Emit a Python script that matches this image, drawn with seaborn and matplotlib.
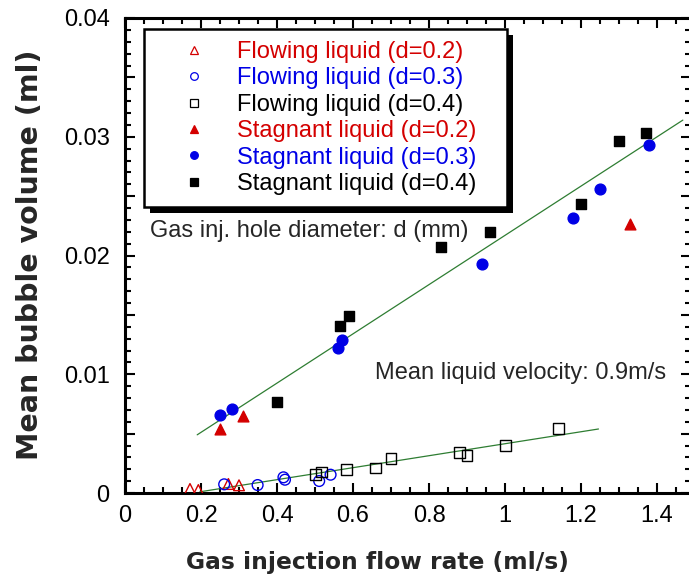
import numpy as np
import pandas as pd
import matplotlib
matplotlib.use("Agg")
import matplotlib.pyplot as plt
import seaborn as sns
from matplotlib.ticker import MultipleLocator, FuncFormatter
from matplotlib.patches import Rectangle

# ---------------- data ----------------
flow02_x = [0.171, 0.193, 0.272, 0.300]
flow02_y = [0.00034, 0.00025, 0.00076, 0.00065]

flow03_x = [0.261, 0.349, 0.417, 0.421, 0.511, 0.541]
flow03_y = [0.00073, 0.00067, 0.00132, 0.00112, 0.00101, 0.00154]

flow04_x = [0.502, 0.517, 0.582, 0.660, 0.700, 0.880, 0.900, 1.001, 1.140]
flow04_y = [0.00154, 0.00177, 0.00196, 0.00210, 0.00289, 0.00343, 0.00314, 0.00402, 0.00542]

stag02_x = [0.250, 0.311, 1.329]
stag02_y = [0.00536, 0.00651, 0.02265]

stag03_x = [0.250, 0.282, 0.560, 0.571, 0.940, 1.179, 1.250, 1.379]
stag03_y = [0.00657, 0.00705, 0.01221, 0.01288, 0.01926, 0.02316, 0.02560, 0.02930]

stag04_x = [0.401, 0.566, 0.589, 0.831, 0.961, 1.200, 1.300, 1.371]
stag04_y = [0.00769, 0.01406, 0.01490, 0.02072, 0.02195, 0.02436, 0.02962, 0.03032]

fit_stag_x = [0.19, 1.468]
fit_stag_y = [0.0049, 0.0314]
fit_flow_x = [0.197, 1.246]
fit_flow_y = [0.0001, 0.00539]

series_labels = ["Flowing liquid (d=0.2)", "Flowing liquid (d=0.3)", "Flowing liquid (d=0.4)",
                 "Stagnant liquid (d=0.2)", "Stagnant liquid (d=0.3)", "Stagnant liquid (d=0.4)"]

x_label = "Gas injection flow rate (ml/s)"
y_label = "Mean bubble volume (ml)"
note_diam = "Gas inj. hole diameter: d (mm)"
note_vel = "Mean liquid velocity: 0.9m/s"

# ---------------- styling ----------------
sns.set_theme(style="ticks")
plt.rcParams["font.family"] = ["Liberation Sans", "DejaVu Sans"]

RED = "#d40000"
BLUE = "#0000e6"
BLACK = "#000000"
GREEN = "#2e7d32"
FS = 17

W, H = 689, 582
fig = plt.figure(figsize=(W / 100, H / 100), dpi=100)
ax_left, ax_right, ax_top, ax_bot = 125, 691.2, 18, 493
AW, AH = ax_right - ax_left, ax_bot - ax_top
ax = fig.add_axes([ax_left / W, 1 - ax_bot / H, AW / W, AH / H])

def axx(px):
    return (px - ax_left) / AW

def axy(py):
    return (ax_bot - py) / AH

series = [
    (flow02_x, flow02_y, "^", "none", RED),
    (flow03_x, flow03_y, "o", "none", BLUE),
    (flow04_x, flow04_y, "s", "none", BLACK),
    (stag02_x, stag02_y, "^", RED, RED),
    (stag03_x, stag03_y, "o", BLUE, BLUE),
    (stag04_x, stag04_y, "s", BLACK, BLACK),
]
text_colors = [RED, BLUE, BLACK, RED, BLUE, BLACK]

# fit lines
sns.lineplot(x=fit_stag_x, y=fit_stag_y, ax=ax, color=GREEN, lw=0.9, zorder=2)
sns.lineplot(x=fit_flow_x, y=fit_flow_y, ax=ax, color=GREEN, lw=0.9, zorder=2)

handles = []
for (xs, ys, mk, fc, ec), lab in zip(series, series_labels):
    df = pd.DataFrame({"x": xs, "y": ys})
    sns.scatterplot(data=df, x="x", y="y", ax=ax, marker=mk, s=60,
                    facecolor=fc, edgecolor=ec, linewidth=1.0, zorder=3, legend=False)
    handles.append(plt.Line2D([], [], ls="none", marker=mk, markersize=5.5,
                              markerfacecolor=fc, markeredgecolor=ec,
                              markeredgewidth=0.9, label=lab))

ax.set_xlim(0, 1.49)
ax.set_ylim(0, 0.04)

ax.xaxis.set_major_locator(MultipleLocator(0.2))
ax.xaxis.set_minor_locator(MultipleLocator(0.05))
ax.yaxis.set_major_locator(MultipleLocator(0.005))
ax.yaxis.set_minor_locator(MultipleLocator(0.001))
ax.xaxis.set_major_formatter(FuncFormatter(lambda v, p: "0" if abs(v) < 1e-9 else ("%g" % round(v, 2))))
ax.yaxis.set_major_formatter(FuncFormatter(
    lambda v, p: ("0" if abs(v) < 1e-9 else "%.2f" % v) if abs(round(v / 0.01) - v / 0.01) < 1e-6 else ""))

ax.tick_params(which="both", direction="in", top=True, right=True, width=1.5,
               labelsize=FS, colors="black")
ax.tick_params(which="major", length=7.5)
ax.tick_params(which="minor", length=4.5)
ax.tick_params(axis="x", pad=9)
ax.tick_params(axis="y", pad=11)
for sp in ax.spines.values():
    sp.set_linewidth(2.2)
    sp.set_color("black")

ax.set_xlabel(x_label, fontsize=16.8, fontweight="bold", family="DejaVu Sans")
ax.set_ylabel(y_label, fontsize=20.5, fontweight="bold", family="DejaVu Sans")
ax.xaxis.set_label_coords(axx(377), axy(551))
ax.yaxis.set_label_coords(axx(44), axy(255))

# annotations
ax.text(axx(150), axy(231), note_diam, transform=ax.transAxes, fontsize=FS, ha="left", va="center")
ax.text(axx(375), axy(373), note_vel, transform=ax.transAxes, fontsize=FS, ha="left", va="center")

# legend
x0, x1, y0 = axx(144), axx(507), axy(29)
leg = ax.legend(handles=handles, loc="upper left", mode="expand",
                bbox_to_anchor=(x0, y0 - 0.5, x1 - x0, 0.5),
                frameon=True, fancybox=False, fontsize=FS, borderpad=0.5,
                labelspacing=0.19, handlelength=3.2, handletextpad=0.25, borderaxespad=0)
frame = leg.get_frame()
frame.set_edgecolor("black")
frame.set_linewidth(1.8)
frame.set_facecolor("white")
frame.set_alpha(1)
for t, c in zip(leg.get_texts(), text_colors):
    t.set_color(c)
leg.set_zorder(6)

fig.canvas.draw()
bb = leg.get_window_extent().transformed(ax.transAxes.inverted())
shadow = Rectangle((bb.x0 + 6 / AW, bb.y0 - 6 / AH), bb.width, bb.height, transform=ax.transAxes,
                   facecolor="black", edgecolor="none", zorder=5.5, clip_on=False)
ax.add_patch(shadow)

fig.savefig("out.png", dpi=100)
